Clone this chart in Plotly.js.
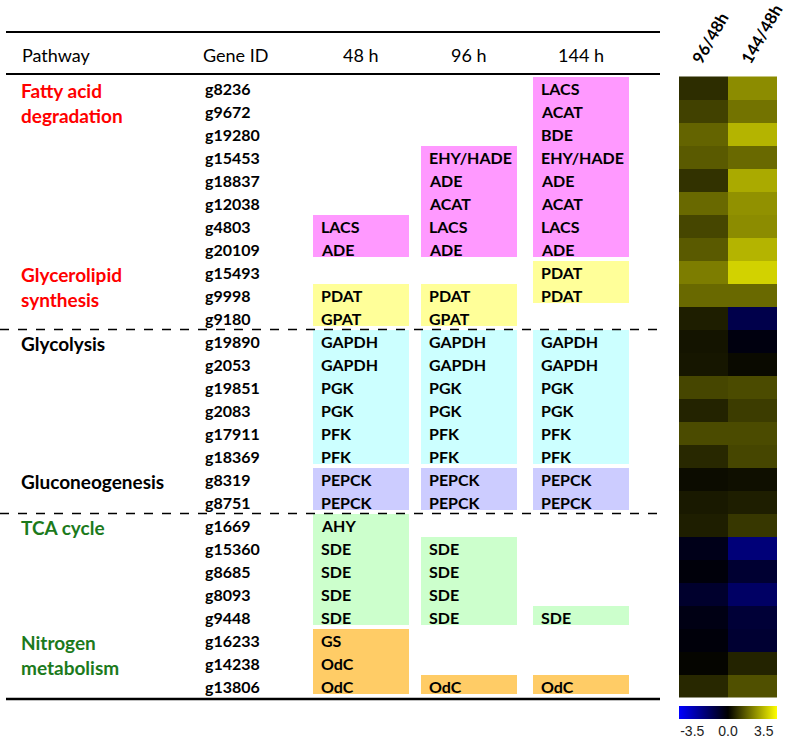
<!DOCTYPE html>
<html>
<head>
<meta charset="utf-8">
<script src="https://cdn.plot.ly/plotly-3.0.1.min.js"></script>
<style>html,body{margin:0;padding:0;background:#fff;}#chart{width:789px;height:739px;}</style>
</head>
<body>
<div id="chart"></div>
<script>
// ---------------- data ----------------
const headers = ['Pathway', 'Gene ID', '48 h', '96 h', '144 h'];
const genes = ['g8236','g9672','g19280','g15453','g18837','g12038','g4803','g20109',
  'g15493','g9998','g9180',
  'g19890','g2053','g19851','g2083','g17911','g18369',
  'g8319','g8751',
  'g1669','g15360','g8685','g8093','g9448',
  'g16233','g14238','g13806'];
const pathwayNames = ['Fatty acid<br>degradation','Glycerolipid<br>synthesis','Glycolysis','Gluconeogenesis','TCA cycle','Nitrogen<br>metabolism'];
const pathwayStart = [0, 8, 11, 17, 19, 24];
const enz48 = ['','','','','','','LACS','ADE',
  '','PDAT','GPAT',
  'GAPDH','GAPDH','PGK','PGK','PFK','PFK',
  'PEPCK','PEPCK',
  'AHY','SDE','SDE','SDE','SDE',
  'GS','OdC','OdC'];
const enz96 = ['','','','EHY/HADE','ADE','ACAT','LACS','ADE',
  '','PDAT','GPAT',
  'GAPDH','GAPDH','PGK','PGK','PFK','PFK',
  'PEPCK','PEPCK',
  '','SDE','SDE','SDE','SDE',
  '','','OdC'];
const enz144 = ['LACS','ACAT','BDE','EHY/HADE','ADE','ACAT','LACS','ADE',
  'PDAT','PDAT','',
  'GAPDH','GAPDH','PGK','PGK','PFK','PFK',
  'PEPCK','PEPCK',
  '','','','','SDE',
  '','','OdC'];
const heatCols = ['96/48h', '144/48h'];
const ratio96 = [0.85,1.22,1.88,1.69,0.94,1.98,1.32,1.69,
  2.35,1.98,0.56,
  0.38,0.41,1.32,0.66,1.41,0.75,
  0.23,0.47,
  0.56,-0.47,-0.19,-0.85,-0.38,
  -0.19,0.09,0.75];
const ratio144 = [2.64,2.16,3.39,1.98,3.2,2.73,2.64,3.39,
  3.95,1.98,-1.41,
  -0.28,0.19,1.41,1.13,1.41,1.32,
  0.28,0.56,
  1.04,-2.26,-0.94,-1.88,-1.04,
  -0.94,0.66,1.51];
const cbTickVals = [-3.5, 0, 3.5];
const cbTickText = ['-3.5', '0.0', '3.5'];

// ---------------- styles / layout constants ----------------
const W = 789, H = 739;
const ROW0 = 88, PITCH = 23;          // pixel centre of first row, row pitch
const TABLE_W = 660;
const pathwayTextColors = ['#FF0000','#FF0000','#000000','#000000','#1C7A1C','#1C7A1C'];
const boxColors = ['#FF99FF','#FFFF99','#CCFFFF','#CCCCFF','#CCFFCC','#FFCC66'];
const colCenters = [361, 469, 581];
const BOX_HALF = 48;
const FONT = 'Lato, "Open Sans", sans-serif';
const HM_X0 = 679, HM_X1 = 777;

const nRows = genes.length;
const groupOf = i => { let g = 0; pathwayStart.forEach((s, k) => { if (i >= s) g = k; }); return g; };

const shapes = [];
const annotations = [];

// header & rules
const yTopRule = (32 - ROW0) / PITCH;
const yHeader = (55 - ROW0) / PITCH;
const yHeadRule = (74 - ROW0) / PITCH;
const yBottomRule = nRows - 0.43;
[[yTopRule, 2], [yHeadRule, 2], [yBottomRule, 2.5]].forEach(([y, w]) => {
  shapes.push({type:'line', xref:'x', yref:'y', x0:6, x1:TABLE_W, y0:y, y1:y, line:{color:'#000', width:w}});
});
[pathwayStart[2] - 0.5, pathwayStart[4] - 0.5].forEach(y => {
  shapes.push({type:'line', xref:'x', yref:'y', x0:0, x1:TABLE_W, y0:y, y1:y, line:{color:'#000', width:1.5, dash:'dash'}});
});

const headerX = [20, 235, colCenters[0], colCenters[1], colCenters[2]];
headers.forEach((h, k) => {
  annotations.push({xref:'x', yref:'y', x:headerX[k], y:yHeader, text:h, showarrow:false,
    xanchor: k === 0 ? 'left' : 'center', yanchor:'middle', font:{family:FONT, size:18, color:'#000'}});
});

// pathway labels
pathwayNames.forEach((p, k) => {
  annotations.push({xref:'x', yref:'y', x:19, y:pathwayStart[k] - 0.5, text:'<b>' + p + '</b>', showarrow:false,
    xanchor:'left', yanchor:'top', align:'left', font:{family:FONT, size:19, color:pathwayTextColors[k]}});
});

// gene IDs
genes.forEach((g, i) => {
  annotations.push({xref:'x', yref:'y', x:203, y:i, text:'<b>' + g + '</b>', showarrow:false,
    xanchor:'left', yanchor:'middle', font:{family:FONT, size:16, color:'#000'}});
});

// enzyme cells: coloured boxes over contiguous runs within one pathway, and labels
[enz48, enz96, enz144].forEach((col, c) => {
  let i = 0;
  while (i < nRows) {
    if (!col[i]) { i++; continue; }
    const g = groupOf(i);
    let j = i;
    while (j + 1 < nRows && col[j + 1] && groupOf(j + 1) === g) j++;
    shapes.push({type:'rect', xref:'x', yref:'y', layer:'below',
      x0:colCenters[c] - BOX_HALF, x1:colCenters[c] + BOX_HALF, y0:i - 0.48, y1:j + 0.35,
      fillcolor:boxColors[g], line:{width:0}});
    i = j + 1;
  }
  col.forEach((t, r) => {
    if (!t) return;
    annotations.push({xref:'x', yref:'y', x:colCenters[c] - 42, y:r, text:'<b>' + t + '</b>', showarrow:false,
      xanchor:'left', yanchor:'middle', font:{family:FONT, size:16, color:'#000'}});
  });
});

// heatmap
const z = ratio96.map((v, i) => [v, ratio144[i]]);
const rowIdx = genes.map((_, i) => i);
const heat = {
  type:'heatmap', x:heatCols, y:rowIdx, z:z, xaxis:'x2', yaxis:'y',
  zmin:-4.8, zmax:4.8,
  colorscale:[[0,'rgb(0,0,255)'],[0.5,'rgb(0,0,0)'],[1,'rgb(255,255,0)']],
  hoverinfo:'skip',
  colorbar:{orientation:'h', x:HM_X0 / W, xanchor:'left', y:1 - 706 / H, yanchor:'top',
    len:HM_X1 - HM_X0, lenmode:'pixels', thickness:13, thicknessmode:'pixels',
    outlinewidth:0, xpad:0, ypad:0, ticks:'', tickvals:cbTickVals, ticktext:cbTickText,
    tickfont:{family:'"Liberation Sans", Arial, sans-serif', size:14, color:'#222'}}
};

const layout = {
  width:W, height:H, margin:{l:0, r:0, t:0, b:0},
  paper_bgcolor:'#fff', plot_bgcolor:'rgba(0,0,0,0)', showlegend:false,
  xaxis:{domain:[0, TABLE_W / W], range:[0, TABLE_W], visible:false, fixedrange:true},
  xaxis2:{domain:[HM_X0 / W, HM_X1 / W], type:'category', anchor:'free', position:1 - (ROW0 - PITCH / 2) / H,
    side:'top', showgrid:false, zeroline:false, showline:false, ticks:'', tickangle:-60,
    tickfont:{family:FONT, size:16.5, color:'#000', weight:'bold'}, ticklabelstandoff:4, ticklabelshift:-9},
  yaxis:{domain:[0, 1], range:[(H - ROW0) / PITCH, -ROW0 / PITCH], visible:false, fixedrange:true},
  shapes:shapes, annotations:annotations
};

Plotly.newPlot('chart', [heat], layout, {displayModeBar:false, staticPlot:true});
</script>
</body>
</html>
